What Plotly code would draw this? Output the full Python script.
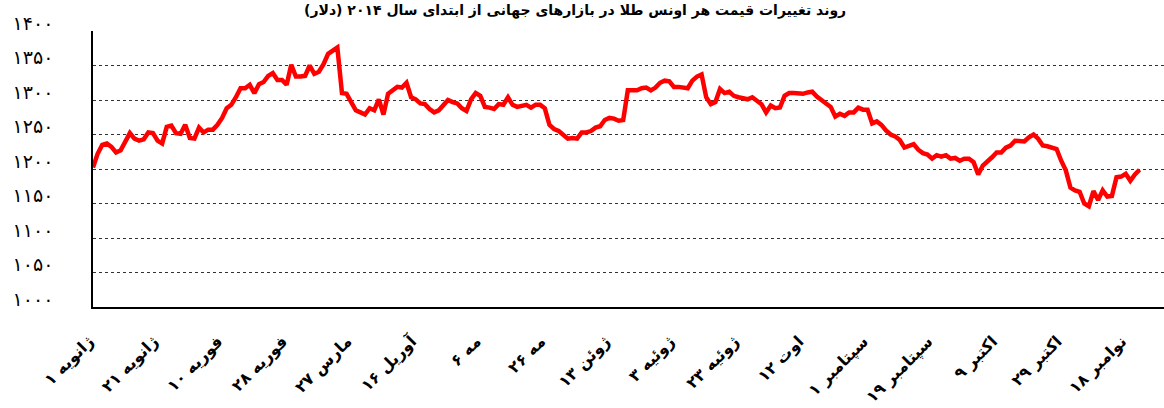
import plotly.graph_objects as go

# Daily price values (trading days)
prices = [
    1202, 1222, 1235, 1237, 1232, 1224, 1227, 1239, 1252, 1244,
    1241, 1243, 1253, 1252, 1241, 1237, 1261, 1263, 1252, 1251,
    1264, 1245, 1244, 1260, 1253, 1257, 1257, 1264, 1274, 1288,
    1293, 1304, 1317, 1317, 1322, 1310, 1323, 1326, 1335, 1339,
    1329, 1329, 1322, 1351, 1334, 1334, 1335, 1350, 1338, 1341,
    1352, 1367, 1372, 1376, 1310, 1309, 1297, 1285, 1282, 1279,
    1288, 1285, 1301, 1279, 1309, 1314, 1319, 1318, 1325, 1304,
    1301, 1295, 1294, 1287, 1282, 1285, 1293, 1300, 1297, 1295,
    1288, 1284, 1301, 1310, 1306, 1290, 1289, 1287, 1294, 1293,
    1304, 1293, 1290, 1292, 1293, 1289, 1293, 1293, 1288, 1264,
    1258, 1255, 1249, 1244, 1245, 1244, 1253, 1253, 1255, 1260,
    1262, 1271, 1274, 1273, 1270, 1271, 1314, 1314, 1314, 1317,
    1318, 1314, 1318, 1325, 1328, 1327, 1319, 1319, 1318, 1317,
    1328, 1334, 1337, 1304, 1294, 1297, 1316, 1310, 1312, 1306,
    1304, 1303, 1301, 1304, 1299, 1294, 1282, 1292, 1288, 1289,
    1306, 1310, 1310, 1309, 1309, 1311, 1312, 1305, 1299, 1295,
    1290, 1276, 1280, 1277, 1282, 1282, 1289, 1286, 1286, 1266,
    1269, 1264, 1256, 1250, 1247, 1242, 1231, 1233, 1236, 1228,
    1223, 1221, 1215, 1220, 1218, 1220, 1215, 1216, 1212, 1215,
    1215, 1210, 1192, 1205, 1210, 1217, 1224, 1224, 1231, 1234,
    1241, 1240, 1240, 1246, 1250, 1244, 1234, 1233, 1231, 1229,
    1212, 1198, 1173, 1169, 1167, 1150, 1146, 1168, 1155, 1169,
    1160, 1161, 1188, 1189, 1193, 1183, 1192, 1199,
]

# Category tick labels (every 14th trading day)
date_labels = [
    "ژانویه ۱", "ژانویه ۲۱", "فوریه ۱۰", "فوریه ۲۸", "مارس ۲۷",
    "آوریل ۱۶", "مه ۶", "مه ۲۶", "ژوئن ۱۳", "ژوئیه ۳",
    "ژوئیه ۲۳", "اوت ۱۲", "سپتامبر ۱", "سپتامبر ۱۹", "اکتبر ۹",
    "اکتبر ۲۹", "نوامبر ۱۸",
]
label_step = 14

y_values = [1000, 1050, 1100, 1150, 1200, 1250, 1300, 1350, 1400]
y_labels = ["۱۰۰۰", "۱۰۵۰", "۱۱۰۰", "۱۱۵۰", "۱۲۰۰", "۱۲۵۰", "۱۳۰۰", "۱۳۵۰", "۱۴۰۰"]

title_text = "روند تغییرات قیمت هر اونس طلا در بازارهای جهانی از ابتدای سال ۲۰۱۴ (دلار)"

x_index = list(range(len(prices)))
tick_positions = [i * label_step for i in range(len(date_labels))]

fig = go.Figure()
fig.add_trace(go.Scatter(
    x=x_index, y=prices, mode="lines",
    line=dict(color="#FF0000", width=4.5),
    hoverinfo="skip", showlegend=False,
))

fig.update_layout(
    width=1164, height=408,
    margin=dict(l=93, r=0, t=31, b=101, autoexpand=False),
    paper_bgcolor="white", plot_bgcolor="white",
    font=dict(family="DejaVu Sans", color="black"),
    showlegend=False,
)

fig.update_xaxes(
    range=[0, 232.3], automargin=False,
    tickmode="array", tickvals=tick_positions, ticktext=date_labels,
    tickangle=-45,
    tickfont=dict(family="DejaVu Sans", size=16, color="black", weight="bold"),
    ticks="", showgrid=False, zeroline=False,
    showline=True, linecolor="black", linewidth=1.5, mirror=False,
    ticklabelstandoff=17, ticklabelshift=-4,
)

fig.update_yaxes(
    range=[1000, 1400], automargin=False,
    tickmode="array", tickvals=y_values, ticktext=y_labels,
    tickfont=dict(family="DejaVu Sans", size=19, color="black"),
    ticks="", showgrid=True, gridcolor="#333333", gridwidth=1, griddash="dot",
    zeroline=False,
    showline=True, linecolor="black", linewidth=1.5, mirror=False,
    ticklabelstandoff=34, ticklabelshift=-8,
)

fig.add_annotation(
    text=title_text, xref="paper", yref="paper", x=0.45, y=1,
    xanchor="center", yanchor="bottom", yshift=10, showarrow=False,
    font=dict(family="DejaVu Sans", size=14, color="black", weight="bold"),
)

fig.write_html(
    "out.html",
    config={"displayModeBar": False},
    post_script="document.body.style.margin='0';",
)
